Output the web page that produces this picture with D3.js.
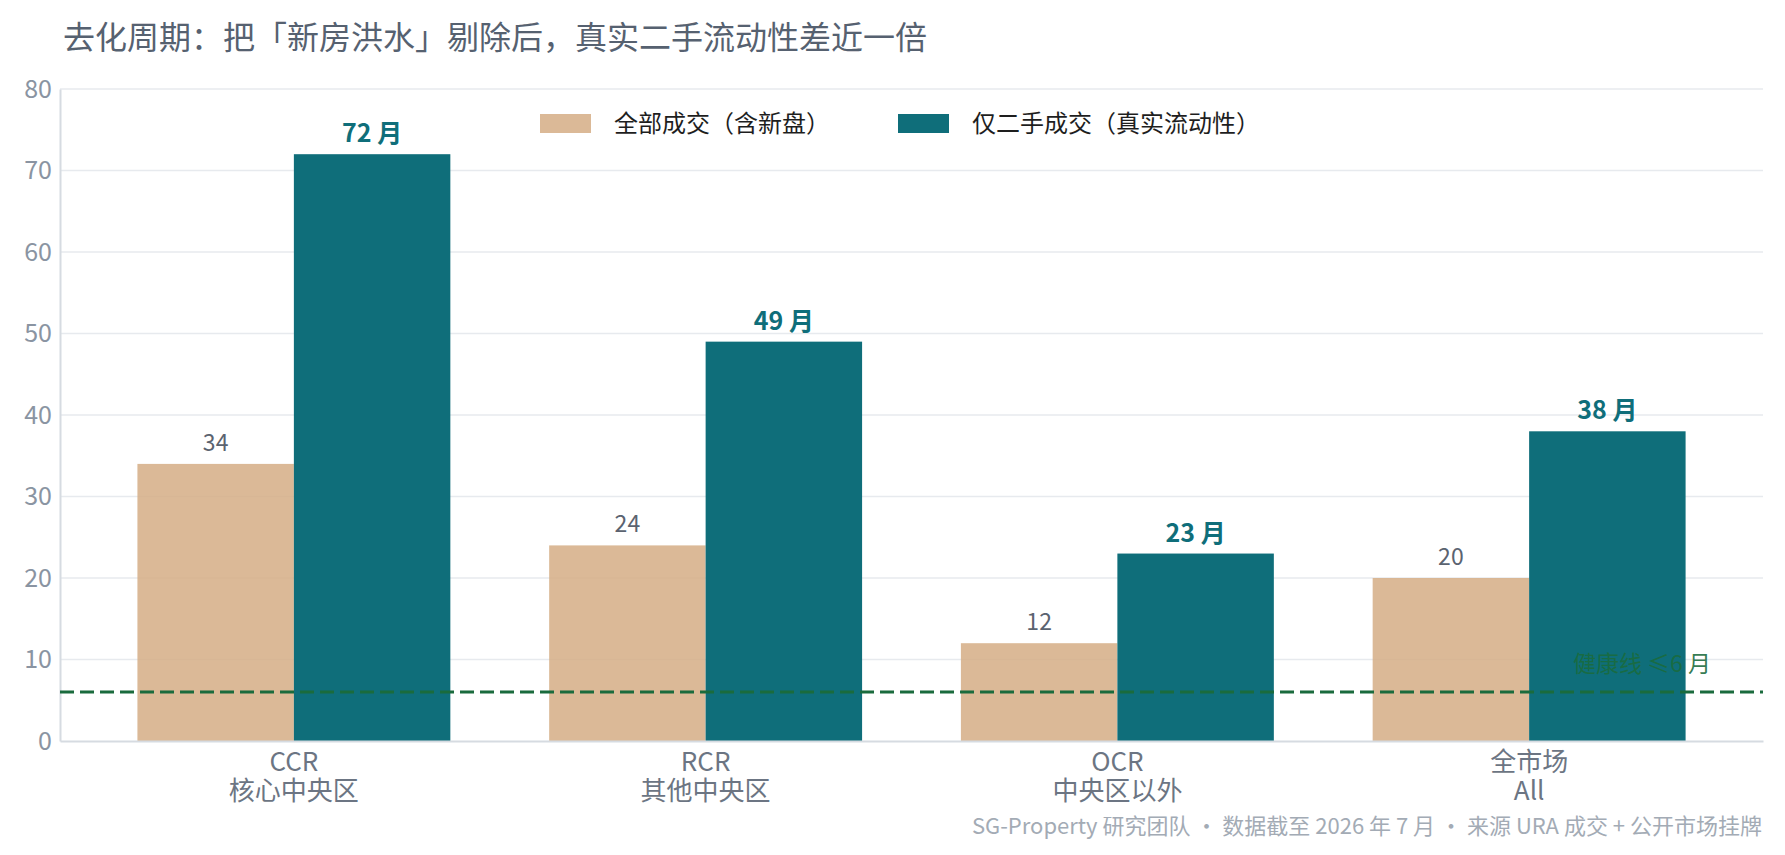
<!DOCTYPE html>
<html>
<head>
<meta charset="utf-8">
<script src="https://cdn.jsdelivr.net/npm/d3@7"></script>
<style>
  html, body { margin: 0; padding: 0; background: #fff; }
  svg { display: block; font-family: "Noto Sans CJK SC", "Noto Sans", sans-serif; }
</style>
</head>
<body>
<svg id="chart" width="1785" height="855"></svg>
<script>
// Data
const regions = ['CCR', 'RCR', 'OCR', '全市场'];
const regionSub = ['核心中央区', '其他中央区', '中央区以外', 'All'];
const allDeals = [34, 24, 12, 20];      // 全部成交（含新盘）
const resaleOnly = [72, 49, 23, 38];    // 仅二手成交（真实流动性）
const yTicks = [0, 10, 20, 30, 40, 50, 60, 70, 80];
const healthyLine = 6;

const seriesNames = ['全部成交（含新盘）', '仅二手成交（真实流动性）'];
const colors = {tan: '#d5ad85', teal: '#0f6e7a', green: '#1a6b3d'};
const cjkFont = '"Noto Sans CJK SC", sans-serif';

const svg = d3.select('#chart');

// Scales
const x = d3.scaleBand()
  .domain(regions)
  .range([60, 1763])
  .paddingInner(0.24)
  .paddingOuter(0.188);
const xSeries = d3.scaleBand()
  .domain(['all', 'resale'])
  .range([0, x.bandwidth()]);
const y = d3.scaleLinear()
  .domain([0, 80])
  .range([741, 89]);

// Title
svg.append('text')
  .attr('x', 63)
  .attr('y', 49)
  .attr('font-size', 32)
  .attr('fill', '#566170')
  .text('去化周期：把「新房洪水」剔除后，真实二手流动性差近一倍');

// Gridlines
svg.append('g')
  .selectAll('line')
  .data(yTicks.filter((d) => d > 0))
  .join('line')
  .attr('x1', 60)
  .attr('x2', 1763)
  .attr('y1', (d) => y(d))
  .attr('y2', (d) => y(d))
  .attr('stroke', '#e7eaee')
  .attr('stroke-width', 1.5);

// Y axis
const yAxis = svg.append('g')
  .attr('transform', 'translate(60,0)')
  .call(d3.axisLeft(y).tickValues(yTicks).tickSize(0).tickPadding(8));
yAxis.attr('font-family', cjkFont);
yAxis.select('.domain').attr('stroke', '#d6dbe1').attr('stroke-width', 2);
yAxis.selectAll('text')
  .attr('font-size', 25)
  .attr('fill', '#8a94a2');

// Bars
const groups = svg.append('g')
  .selectAll('g')
  .data(regions)
  .join('g')
  .attr('transform', (d) => `translate(${x(d)},0)`);

groups.append('rect')
  .attr('x', xSeries('all'))
  .attr('width', xSeries.bandwidth())
  .attr('y', (d, i) => y(allDeals[i]))
  .attr('height', (d, i) => y(0) - y(allDeals[i]))
  .attr('fill', colors.tan)
  .attr('fill-opacity', 0.85);

groups.append('rect')
  .attr('x', xSeries('resale'))
  .attr('width', xSeries.bandwidth())
  .attr('y', (d, i) => y(resaleOnly[i]))
  .attr('height', (d, i) => y(0) - y(resaleOnly[i]))
  .attr('fill', colors.teal);

// Value labels
groups.append('text')
  .attr('x', xSeries('all') + xSeries.bandwidth() / 2)
  .attr('y', (d, i) => y(allDeals[i]) - 13)
  .attr('text-anchor', 'middle')
  .attr('font-size', 23)
  .attr('fill', '#5b6370')
  .text((d, i) => allDeals[i]);

groups.append('text')
  .attr('x', xSeries('resale') + xSeries.bandwidth() / 2)
  .attr('y', (d, i) => y(resaleOnly[i]) - 12)
  .attr('text-anchor', 'middle')
  .attr('font-size', 25)
  .attr('font-weight', 'bold')
  .attr('fill', colors.teal)
  .text((d, i) => `${resaleOnly[i]} 月`);

// X axis
const xAxis = svg.append('g')
  .attr('transform', `translate(0,${y(0)})`)
  .call(d3.axisBottom(x).tickSize(0).tickFormat(''));
xAxis.attr('font-family', cjkFont);
xAxis.select('.domain').attr('stroke', '#d6dbe1').attr('stroke-width', 2);
xAxis.selectAll('.tick text').remove();
xAxis.selectAll('.tick').append('text')
  .attr('class', 'cat-main')
  .attr('y', 30)
  .attr('text-anchor', 'middle')
  .attr('font-size', 26)
  .attr('fill', '#6c7583')
  .text((d) => d);
xAxis.selectAll('.tick').append('text')
  .attr('class', 'cat-sub')
  .attr('y', 59)
  .attr('text-anchor', 'middle')
  .attr('font-size', 26)
  .attr('fill', '#6c7583')
  .text((d) => regionSub[regions.indexOf(d)]);

// Healthy line
svg.append('line')
  .attr('x1', 60)
  .attr('x2', 1763)
  .attr('y1', y(healthyLine))
  .attr('y2', y(healthyLine))
  .attr('stroke', colors.green)
  .attr('stroke-width', 3)
  .attr('stroke-dasharray', '14 6');

svg.append('text')
  .attr('x', 1711)
  .attr('y', y(healthyLine) - 20)
  .attr('text-anchor', 'end')
  .attr('font-size', 23)
  .attr('fill', colors.green)
  .attr('fill-opacity', 0.9)
  .text(`健康线 ≤${healthyLine} 月`);

// Legend
const legend = svg.append('g')
  .selectAll('g')
  .data(seriesNames)
  .join('g')
  .attr('transform', (d, i) => `translate(${[540, 898][i]},114)`);
legend.append('rect')
  .attr('width', 51)
  .attr('height', 19)
  .attr('fill', (d, i) => (i === 0 ? colors.tan : colors.teal))
  .attr('fill-opacity', (d, i) => (i === 0 ? 0.85 : 1));
legend.append('text')
  .attr('x', 74)
  .attr('y', 18)
  .attr('font-size', 24)
  .attr('fill', '#1e1e1e')
  .text((d) => d);

// Footer
svg.append('text')
  .attr('x', 1762)
  .attr('y', 834)
  .attr('text-anchor', 'end')
  .attr('font-size', 22)
  .attr('fill', '#a3abb5')
  .text('SG-Property 研究团队  ·  数据截至 2026 年 7 月  ·  来源 URA 成交 + 公开市场挂牌');
</script>
</body>
</html>
